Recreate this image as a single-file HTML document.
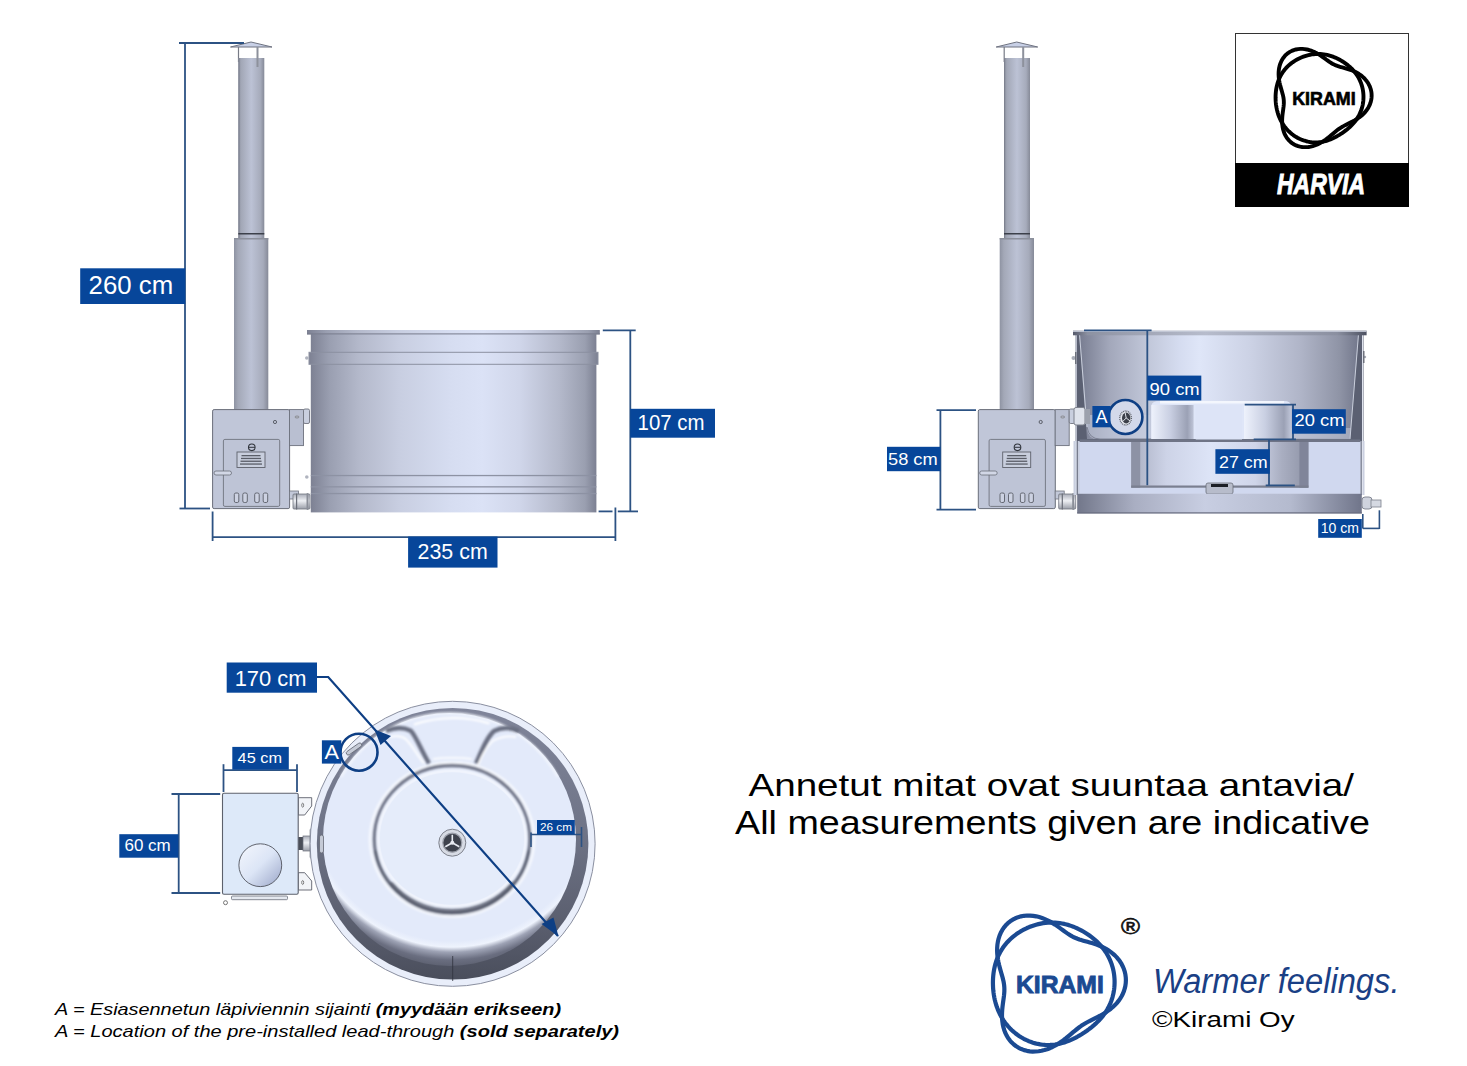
<!DOCTYPE html><html><head><meta charset="utf-8"><style>html,body{margin:0;padding:0;background:#fff;width:1467px;height:1066px;overflow:hidden}</style></head><body><svg width="1467" height="1066" viewBox="0 0 1467 1066" style="display:block">
<defs>
<linearGradient id="pipeG" x1="0" x2="1" y1="0" y2="0">
 <stop offset="0" stop-color="#8e93a2"/><stop offset="0.12" stop-color="#a3a8b7"/><stop offset="0.5" stop-color="#bcc2d5"/><stop offset="0.85" stop-color="#a6abbb"/><stop offset="1" stop-color="#868a98"/>
</linearGradient>
<linearGradient id="tubG" x1="0" x2="1" y1="0" y2="0">
 <stop offset="0" stop-color="#7d8193"/><stop offset="0.067" stop-color="#9a9fb1"/><stop offset="0.17" stop-color="#b4b9cb"/><stop offset="0.31" stop-color="#c8cee1"/><stop offset="0.49" stop-color="#d6ddf1"/><stop offset="0.6" stop-color="#dbe2f6"/><stop offset="0.73" stop-color="#d0d6ea"/><stop offset="0.87" stop-color="#b4b9cb"/><stop offset="0.96" stop-color="#9a9fb0"/><stop offset="1" stop-color="#7c8092"/>
</linearGradient>
<linearGradient id="bowlG" x1="0" x2="1" y1="0" y2="0">
 <stop offset="0" stop-color="#777c90"/><stop offset="0.11" stop-color="#a3a8bb"/><stop offset="0.24" stop-color="#c0c6d8"/><stop offset="0.36" stop-color="#d5dcf0"/><stop offset="0.43" stop-color="#dfe6f8"/><stop offset="0.61" stop-color="#ccd2e5"/><stop offset="0.79" stop-color="#b0b5c8"/><stop offset="0.93" stop-color="#8f94a6"/><stop offset="1" stop-color="#72778b"/>
</linearGradient>
<linearGradient id="baseG" x1="0" x2="1" y1="0" y2="0">
 <stop offset="0" stop-color="#72778a"/><stop offset="0.2" stop-color="#a9aec2"/><stop offset="0.45" stop-color="#c8cee2"/><stop offset="0.75" stop-color="#b4bace"/><stop offset="1" stop-color="#70758a"/>
</linearGradient>
<linearGradient id="seatG" x1="0" x2="1" y1="0" y2="0">
 <stop offset="0" stop-color="#eef2fc"/><stop offset="0.45" stop-color="#c9cfe2"/><stop offset="0.85" stop-color="#9ba1b5"/><stop offset="1" stop-color="#bfc5d8"/>
</linearGradient>
<linearGradient id="wellG" x1="0" x2="1" y1="0" y2="0">
 <stop offset="0" stop-color="#a9aec1"/><stop offset="0.2" stop-color="#cdd3e7"/><stop offset="0.45" stop-color="#dde4f7"/><stop offset="0.7" stop-color="#cfd5e9"/><stop offset="0.85" stop-color="#a9aec1"/><stop offset="1" stop-color="#8e93a6"/>
</linearGradient>
<linearGradient id="capG" x1="0" x2="1" y1="0" y2="1">
 <stop offset="0" stop-color="#f4f7fd"/><stop offset="0.5" stop-color="#dce5f6"/><stop offset="1" stop-color="#9aa6c8"/>
</linearGradient>
<linearGradient id="rimG" x1="0" x2="0" y1="0" y2="1">
 <stop offset="0" stop-color="#80859a"/><stop offset="0.45" stop-color="#6f7487"/><stop offset="0.8" stop-color="#5a5e6e"/><stop offset="1" stop-color="#4a4e5c"/>
</linearGradient>
<filter id="blur3" x="-10%" y="-10%" width="120%" height="120%"><feGaussianBlur stdDeviation="3"/></filter>
<filter id="blur1" x="-10%" y="-10%" width="120%" height="120%"><feGaussianBlur stdDeviation="0.9"/></filter>
<radialGradient id="bowlR" gradientUnits="userSpaceOnUse" cx="452" cy="800" r="172">
 <stop offset="0" stop-color="#e3eafa"/><stop offset="0.82" stop-color="#e3eafa"/><stop offset="0.855" stop-color="#eef3fd"/><stop offset="0.885" stop-color="#9ea3b5"/><stop offset="0.93" stop-color="#6a6e80"/><stop offset="1" stop-color="#525664"/>
</radialGradient>
<linearGradient id="fitG" x1="0" x2="0" y1="0" y2="1">
 <stop offset="0" stop-color="#a9adb8"/><stop offset="0.45" stop-color="#eef0f4"/><stop offset="1" stop-color="#9a9ea8"/>
</linearGradient>
<linearGradient id="rimG2" x1="0" x2="1" y1="0" y2="0">
 <stop offset="0" stop-color="#55596a"/><stop offset="0.05" stop-color="#8d92a2"/><stop offset="0.45" stop-color="#b7bccc"/><stop offset="0.9" stop-color="#8a8fa0"/><stop offset="1" stop-color="#4d5262"/>
</linearGradient>
</defs>
<rect width="1467" height="1066" fill="#fff"/>
<g font-family="Liberation Sans, sans-serif">
<g transform="translate(0,0)">
<polygon points="230.5,47 251,42 272,47" fill="#c8d0e6" stroke="#6f7380" stroke-width="1"/>
<line x1="238.5" y1="47" x2="238.5" y2="62" stroke="#777b86" stroke-width="1.2"/>
<rect x="238.3" y="58" width="26" height="181" fill="url(#pipeG)"/>
<rect x="256.5" y="47" width="2" height="20" fill="#8d919c"/>
<line x1="239" y1="58" x2="239" y2="239" stroke="#7a7e8c" stroke-width="1"/>
<rect x="238.3" y="233" width="26" height="1.5" fill="#3c404a"/>
<rect x="234" y="238" width="34.3" height="172" fill="url(#pipeG)"/>
<rect x="234" y="238" width="34.3" height="1.5" fill="#8c909c"/>
</g>
<g transform="translate(0,0)">
<rect x="212.6" y="409.6" width="77" height="99" rx="1.5" fill="#c0c6d8" stroke="#6a6e7a" stroke-width="1"/>
<rect x="223.4" y="439.4" width="56.3" height="67" rx="1.5" fill="#bec4d6" stroke="#777b87" stroke-width="1"/>
<circle cx="275" cy="422" r="1.6" fill="none" stroke="#50545e" stroke-width="0.9"/>
<circle cx="251.8" cy="447.3" r="3.3" fill="none" stroke="#30343c" stroke-width="1.1"/>
<path d="M248.8,447.3 L255,447.3" stroke="#30343c" stroke-width="1"/>
<rect x="237" y="452" width="28" height="15.5" fill="#c8cedd" stroke="#5d616b" stroke-width="0.9"/>
<rect x="241.5" y="455" width="19" height="1.3" fill="#5a5e68"/>
<rect x="241.0" y="457.8" width="20" height="1.3" fill="#5a5e68"/>
<rect x="240.5" y="460.6" width="21" height="1.3" fill="#5a5e68"/>
<rect x="240.0" y="463.4" width="22" height="1.3" fill="#5a5e68"/>
<rect x="214" y="471" width="17.5" height="4" rx="2" fill="#d2d7e6" stroke="#6a6e7a" stroke-width="0.8"/>
<rect x="234.3" y="493" width="4.5" height="9.5" rx="1.5" fill="#cdd2e2" stroke="#5a5e68" stroke-width="0.9"/>
<rect x="242.8" y="493" width="4.5" height="9.5" rx="1.5" fill="#cdd2e2" stroke="#5a5e68" stroke-width="0.9"/>
<rect x="254.7" y="493" width="4.5" height="9.5" rx="1.5" fill="#cdd2e2" stroke="#5a5e68" stroke-width="0.9"/>
<rect x="263.2" y="493" width="4.5" height="9.5" rx="1.5" fill="#cdd2e2" stroke="#5a5e68" stroke-width="0.9"/>
<rect x="289.5" y="409.6" width="14" height="36" fill="#b9bfd1" stroke="#6e727e" stroke-width="0.9"/>
<rect x="303.5" y="409" width="6" height="14.5" rx="1.5" fill="#c9cfdf" stroke="#70747f" stroke-width="0.9"/>
<ellipse cx="297" cy="417" rx="2" ry="1" fill="none" stroke="#777" stroke-width="0.7"/>
<rect x="289.5" y="491" width="9" height="8" fill="#c2c8d8" stroke="#70747f" stroke-width="0.8"/>
<rect x="293" y="494" width="17" height="15" rx="1" fill="url(#fitG)" stroke="#70747f" stroke-width="0.8"/>
<rect x="296" y="493.5" width="1.2" height="16" fill="#6a6e78"/>
<rect x="306.5" y="493" width="2" height="17" rx="1" fill="#8a8e98"/>
</g>
<rect x="310.8" y="334" width="285.6" height="178.4" fill="url(#tubG)"/>
<rect x="307" y="330" width="292.8" height="4.4" fill="url(#tubG)"/>
<rect x="307" y="333.4" width="292.8" height="1" fill="#777b8c"/>
<rect x="309" y="352.3" width="289" height="12" fill="url(#tubG)" stroke="#8b90a0" stroke-width="1"/>
<circle cx="306.8" cy="358" r="1.8" fill="#b0b4bf"/>
<circle cx="306.8" cy="477" r="1.8" fill="#b0b4bf"/>
<rect x="310.8" y="474.9" width="285.6" height="1.3" fill="#8d92a3"/>
<rect x="310.8" y="486.2" width="285.6" height="1.3" fill="#8d92a3"/>
<rect x="310.8" y="492.9" width="285.6" height="1.3" fill="#8d92a3"/>
<line x1="179" y1="43" x2="244" y2="43" stroke="#2c5283" stroke-width="1.8"/>
<line x1="185" y1="43" x2="185" y2="508.5" stroke="#2c5283" stroke-width="1.8"/>
<line x1="179.5" y1="508.5" x2="210" y2="508.5" stroke="#2c5283" stroke-width="1.8"/>
<rect x="80.2" y="268.3" width="105.0" height="35.7" fill="#07469a"/>
<text x="88.6" y="294.4" font-size="25.7" fill="#fff" textLength="84.6" lengthAdjust="spacingAndGlyphs">260 cm</text>
<line x1="212.6" y1="511.5" x2="212.6" y2="541" stroke="#2c5283" stroke-width="1.8"/>
<line x1="615.4" y1="507.5" x2="615.4" y2="541" stroke="#2c5283" stroke-width="1.8"/>
<line x1="212.6" y1="537.2" x2="615.4" y2="537.2" stroke="#2c5283" stroke-width="1.8"/>
<rect x="408.1" y="536.6" width="89.4" height="31.0" fill="#07469a"/>
<text x="417.6" y="559.4" font-size="21.8" fill="#fff" textLength="70.1" lengthAdjust="spacingAndGlyphs">235 cm</text>
<line x1="602.8" y1="330.4" x2="635.7" y2="330.4" stroke="#2c5283" stroke-width="1.8"/>
<line x1="630.3" y1="330.4" x2="630.3" y2="511.4" stroke="#2c5283" stroke-width="1.8"/>
<line x1="598.6" y1="511.4" x2="612.5" y2="511.4" stroke="#2c5283" stroke-width="1.8"/>
<line x1="617.8" y1="511.4" x2="638" y2="511.4" stroke="#2c5283" stroke-width="1.8"/>
<rect x="630.2" y="408.8" width="84.8" height="28.9" fill="#07469a"/>
<text x="637.6" y="430.4" font-size="21.2" fill="#fff" textLength="67.0" lengthAdjust="spacingAndGlyphs">107 cm</text>
<g transform="translate(765.7,0)">
<polygon points="230.5,47 251,42 272,47" fill="#c8d0e6" stroke="#6f7380" stroke-width="1"/>
<line x1="238.5" y1="47" x2="238.5" y2="62" stroke="#777b86" stroke-width="1.2"/>
<rect x="238.3" y="58" width="26" height="181" fill="url(#pipeG)"/>
<rect x="256.5" y="47" width="2" height="20" fill="#8d919c"/>
<line x1="239" y1="58" x2="239" y2="239" stroke="#7a7e8c" stroke-width="1"/>
<rect x="238.3" y="233" width="26" height="1.5" fill="#3c404a"/>
<rect x="234" y="238" width="34.3" height="172" fill="url(#pipeG)"/>
<rect x="234" y="238" width="34.3" height="1.5" fill="#8c909c"/>
</g>
<g transform="translate(765.7,0)">
<rect x="212.6" y="409.6" width="77" height="99" rx="1.5" fill="#c0c6d8" stroke="#6a6e7a" stroke-width="1"/>
<rect x="223.4" y="439.4" width="56.3" height="67" rx="1.5" fill="#bec4d6" stroke="#777b87" stroke-width="1"/>
<circle cx="275" cy="422" r="1.6" fill="none" stroke="#50545e" stroke-width="0.9"/>
<circle cx="251.8" cy="447.3" r="3.3" fill="none" stroke="#30343c" stroke-width="1.1"/>
<path d="M248.8,447.3 L255,447.3" stroke="#30343c" stroke-width="1"/>
<rect x="237" y="452" width="28" height="15.5" fill="#c8cedd" stroke="#5d616b" stroke-width="0.9"/>
<rect x="241.5" y="455" width="19" height="1.3" fill="#5a5e68"/>
<rect x="241.0" y="457.8" width="20" height="1.3" fill="#5a5e68"/>
<rect x="240.5" y="460.6" width="21" height="1.3" fill="#5a5e68"/>
<rect x="240.0" y="463.4" width="22" height="1.3" fill="#5a5e68"/>
<rect x="214" y="471" width="17.5" height="4" rx="2" fill="#d2d7e6" stroke="#6a6e7a" stroke-width="0.8"/>
<rect x="234.3" y="493" width="4.5" height="9.5" rx="1.5" fill="#cdd2e2" stroke="#5a5e68" stroke-width="0.9"/>
<rect x="242.8" y="493" width="4.5" height="9.5" rx="1.5" fill="#cdd2e2" stroke="#5a5e68" stroke-width="0.9"/>
<rect x="254.7" y="493" width="4.5" height="9.5" rx="1.5" fill="#cdd2e2" stroke="#5a5e68" stroke-width="0.9"/>
<rect x="263.2" y="493" width="4.5" height="9.5" rx="1.5" fill="#cdd2e2" stroke="#5a5e68" stroke-width="0.9"/>
<rect x="289.5" y="409.6" width="14" height="36" fill="#b9bfd1" stroke="#6e727e" stroke-width="0.9"/>
<rect x="303.5" y="409" width="6" height="14.5" rx="1.5" fill="#c9cfdf" stroke="#70747f" stroke-width="0.9"/>
<ellipse cx="297" cy="417" rx="2" ry="1" fill="none" stroke="#777" stroke-width="0.7"/>
<rect x="289.5" y="491" width="9" height="8" fill="#c2c8d8" stroke="#70747f" stroke-width="0.8"/>
<rect x="293" y="494" width="17" height="15" rx="1" fill="url(#fitG)" stroke="#70747f" stroke-width="0.8"/>
<rect x="296" y="493.5" width="1.2" height="16" fill="#6a6e78"/>
<rect x="306.5" y="493" width="2" height="17" rx="1" fill="#8a8e98"/>
</g>
<rect x="1075.5" y="333" width="288" height="110" fill="#5b6072"/>
<rect x="1073.5" y="441" width="291" height="54" fill="#c9cfdf"/>
<polygon points="1079,333 1359,333 1350,439 1087,439" fill="url(#bowlG)"/>
<rect x="1075.6" y="335" width="1.1" height="160" fill="#dfe3ee"/>
<rect x="1362" y="335" width="1.1" height="160" fill="#dfe3ee"/>
<rect x="1076.7" y="441" width="1.2" height="54" fill="#6f7484"/>
<rect x="1360.5" y="441" width="1.2" height="54" fill="#6f7484"/>
<line x1="1079.5" y1="334" x2="1087" y2="427" stroke="#d3d8e4" stroke-width="0.9"/>
<line x1="1358.5" y1="334" x2="1350" y2="439" stroke="#d3d8e4" stroke-width="0.9"/>
<rect x="1073" y="330.7" width="293.6" height="4.6" fill="url(#rimG2)"/>
<rect x="1073" y="330.7" width="293.6" height="1.2" fill="#c5cad8"/>
<circle cx="1073.5" cy="358" r="2" fill="#a9adb8"/><rect x="1075" y="352" width="1.5" height="12" fill="#6d717c"/>
<circle cx="1365" cy="357" r="1.2" fill="#a9adb8"/><rect x="1363" y="351" width="1.5" height="12" fill="#6d717c"/>
<path d="M1087,415 L1087,429 Q1088,439 1098,439 L1150,439 L1150,415 Z" fill="#c9cfe2" opacity="0.55"/>
<path d="M1087,427 Q1089,439 1100,439 L1350,439" fill="none" stroke="#7d8294" stroke-width="1"/>
<path d="M1151.4,406 Q1151.4,401 1160,401 L1284,401 Q1291,401 1291,406 L1291,439 L1151.4,439 Z" fill="#dfe6f8"/>
<rect x="1151.4" y="405" width="42.2" height="34" fill="url(#seatG)"/>
<rect x="1244" y="405" width="47" height="34" fill="url(#seatG)"/>
<rect x="1195.7" y="405" width="46.3" height="36" fill="#dde4f7"/>
<rect x="1160" y="401" width="124" height="2.5" fill="#f3f6fd"/>
<path d="M1291,428 L1351,428 L1350,439 L1291,439 Z" fill="#c3c9dc" opacity="0.5"/>
<rect x="1079.6" y="441.7" width="280.7" height="52.1" fill="#d0d8ef"/>
<rect x="1131.2" y="441.7" width="177.2" height="46" fill="url(#wellG)"/>
<rect x="1131.2" y="441.7" width="9" height="46" fill="#8d92a5"/>
<rect x="1299.4" y="441.7" width="9" height="46" fill="#80859a"/>
<rect x="1131.2" y="485.5" width="177.2" height="2.2" fill="#7a7f90"/>
<rect x="1079.6" y="439.5" width="280.7" height="2.5" fill="#6f7486"/>
<rect x="1206" y="483" width="27" height="11" rx="2" fill="#b7bccb" stroke="#6a6e7a" stroke-width="0.8"/>
<rect x="1211" y="484" width="17" height="3" fill="#1c1f26"/>
<rect x="1077.2" y="493.8" width="284.6" height="19.6" fill="url(#baseG)"/>
<rect x="1077.2" y="512.3" width="284.6" height="1.2" fill="#6a6e80"/>
<rect x="1074" y="407.5" width="11" height="17.5" rx="2" fill="#dfe3ec" stroke="#7c808c" stroke-width="1"/>
<rect x="1085" y="409" width="5" height="15" fill="#9ca1ad"/>
<rect x="1362" y="497" width="10" height="12" rx="3" fill="#cfd3de" stroke="#7c808c" stroke-width="0.9"/>
<rect x="1371" y="500" width="10" height="7" fill="#d5d9e2" stroke="#7c808c" stroke-width="0.8"/>
<circle cx="1125.4" cy="417" r="17" fill="#d3d9ea" stroke="#0e3f84" stroke-width="2.6"/>
<ellipse cx="1125.6" cy="418" rx="5.8" ry="7" fill="#e4e7ee" stroke="#5a5e68" stroke-width="1.3" stroke-dasharray="1 0.8"/>
<ellipse cx="1126.2" cy="418" rx="4.2" ry="5.4" fill="#3c4049"/>
<path d="M1126.2,418 l-1,-5 M1126.2,418 l4,3 M1126.2,418 l-3.5,3.5" stroke="#dfe3ea" stroke-width="1"/>
<rect x="1092.4" y="406" width="18.1" height="21.3" fill="#07469a"/>
<text x="1095.5" y="422.5" font-size="18" fill="#fff" textLength="12.0" lengthAdjust="spacingAndGlyphs">A</text>
<line x1="936.5" y1="410.2" x2="976" y2="410.2" stroke="#2c5283" stroke-width="1.8"/>
<line x1="936.5" y1="509.6" x2="976" y2="509.6" stroke="#2c5283" stroke-width="1.8"/>
<line x1="940.4" y1="410.2" x2="940.4" y2="509.6" stroke="#2c5283" stroke-width="1.8"/>
<rect x="887" y="446.8" width="53.4" height="24.4" fill="#07469a"/>
<text x="888" y="465" font-size="17.4" fill="#fff" textLength="49.7" lengthAdjust="spacingAndGlyphs">58 cm</text>
<line x1="1084" y1="330.4" x2="1151.6" y2="330.4" stroke="#2c5283" stroke-width="1.8"/>
<line x1="1147.3" y1="330.4" x2="1147.3" y2="485.2" stroke="#2c5283" stroke-width="1.8"/>
<rect x="1147.4" y="375.6" width="53.9" height="24.9" fill="#07469a"/>
<text x="1149.5" y="395" font-size="17.4" fill="#fff" textLength="50.2" lengthAdjust="spacingAndGlyphs">90 cm</text>
<line x1="1244.7" y1="404.7" x2="1296" y2="404.7" stroke="#2c5283" stroke-width="1.8"/>
<line x1="1253.7" y1="439.4" x2="1296" y2="439.4" stroke="#2c5283" stroke-width="1.8"/>
<line x1="1293" y1="404.7" x2="1293" y2="439.4" stroke="#2c5283" stroke-width="1.8"/>
<rect x="1292" y="409.2" width="53.8" height="24.5" fill="#07469a"/>
<text x="1294.6" y="426.3" font-size="16.6" fill="#fff" textLength="49.9" lengthAdjust="spacingAndGlyphs">20 cm</text>
<line x1="1269" y1="439.7" x2="1269" y2="485.4" stroke="#2c5283" stroke-width="1.8"/>
<line x1="1265.7" y1="485.4" x2="1294.8" y2="485.4" stroke="#2c5283" stroke-width="1.8"/>
<rect x="1215.4" y="449.2" width="54.4" height="24.6" fill="#07469a"/>
<text x="1219" y="467.8" font-size="17.4" fill="#fff" textLength="48.6" lengthAdjust="spacingAndGlyphs">27 cm</text>
<line x1="1379.4" y1="510.3" x2="1379.4" y2="529" stroke="#2c5283" stroke-width="1.6"/>
<line x1="1362.8" y1="528.4" x2="1379.4" y2="528.4" stroke="#2c5283" stroke-width="1.6"/>
<line x1="1362.8" y1="514" x2="1362.8" y2="528.4" stroke="#2c5283" stroke-width="1.6"/>
<rect x="1318.2" y="519" width="43.6" height="18.8" fill="#07469a"/>
<text x="1320.8" y="533" font-size="13.8" fill="#fff" textLength="38.2" lengthAdjust="spacingAndGlyphs">10 cm</text>
<path d="M298.2,797.7 L311.7,797.7 L311.7,806 L304.7,815 L298.2,815 Z" fill="#f2f4f8" stroke="#5d616c" stroke-width="0.9"/>
<path d="M298.2,872.7 L304.7,872.7 L311.7,881 L311.7,890 L298.2,890 Z" fill="#f2f4f8" stroke="#5d616c" stroke-width="0.9"/>
<ellipse cx="302.7" cy="805.2" rx="1" ry="2" fill="none" stroke="#555" stroke-width="0.7"/>
<ellipse cx="302.7" cy="882.5" rx="1" ry="2" fill="none" stroke="#555" stroke-width="0.7"/>
<rect x="298" y="837" width="5" height="13" fill="#4a4e58"/>
<rect x="303" y="836" width="8" height="15" fill="url(#fitG)" stroke="#6a6e7a" stroke-width="0.7"/>
<rect x="310" y="829" width="2.5" height="29" rx="1" fill="#c9ced9" stroke="#6a6e7a" stroke-width="0.6"/>
<rect x="222.5" y="793.2" width="75.7" height="101" rx="1.5" fill="#dde9f9" stroke="#5d616c" stroke-width="1.1"/>
<circle cx="260.3" cy="865.2" r="21.4" fill="url(#capG)" stroke="#50545e" stroke-width="0.9"/>
<rect x="231.5" y="896" width="56" height="3.7" rx="1" fill="#e4e8ef" stroke="#6a6e7a" stroke-width="0.8"/>
<circle cx="225.5" cy="902.7" r="2" fill="#fff" stroke="#555" stroke-width="0.8"/>
<circle cx="452.6" cy="843.8" r="142.5" fill="#e9eefa" stroke="#8a8fa0" stroke-width="1"/>
<circle cx="452.6" cy="843.8" r="135.8" fill="url(#rimG)"/>
<circle cx="449.5" cy="839.5" r="126.5" fill="url(#bowlR)"/>
<g filter="url(#blur1)" fill="none">
<path d="M341.1,777 A124,124 0 0 1 557.9,777" stroke="#f4f7fd" stroke-width="2"/>
</g>
<g filter="url(#blur1)"><ellipse cx="452" cy="839.5" rx="82" ry="77" fill="none" stroke="#f7f9fe" stroke-width="2.5"/>
<ellipse cx="452" cy="839" rx="77.8" ry="73.5" fill="none" stroke="#727789" stroke-width="3.4"/>
<path d="M375.5,852 A77.5,73 0 0 0 528.5,852" fill="none" stroke="#505463" stroke-width="4" stroke-opacity="0.45" stroke-linecap="round"/>
<path d="M392,884 A77.5,73 0 0 0 512,884" fill="none" stroke="#505463" stroke-width="4.4" stroke-opacity="0.6" stroke-linecap="round"/>
<ellipse cx="452" cy="838.5" rx="73.5" ry="67.5" fill="none" stroke="#f9fbff" stroke-width="2"/></g>
<ellipse cx="452" cy="838.5" rx="72" ry="66" fill="#e5ecfa"/>
<g filter="url(#blur1)" fill="none">
<path d="M386,731 C394,727.5 403,727 410.8,730.7 C416,736 421,750 429,763.4" stroke="#6a6f82" stroke-width="4.4"/>
<path d="M519,731 C511,727.5 502,727 494,731 C487,737 482,750 476,763.4" stroke="#6a6f82" stroke-width="4.4"/>
<path d="M390,737 C396,735.5 402,736 405.7,739 C412,745 418,756 424,763.4" stroke="#ffffff" stroke-width="1.8"/>
<path d="M516,737 C509,735.5 500,737 492.6,741 C486,748 481,757 478,765.4" stroke="#ffffff" stroke-width="1.8"/>
<path d="M414,724.5 Q452,712 489.5,723.5" stroke="#ffffff" stroke-width="2"/>
<path d="M433,759 Q452,756.5 472,759" stroke="#ffffff" stroke-width="1.6"/>
</g>
<circle cx="452.3" cy="842.7" r="13.5" fill="#d7dbe4" stroke="#7d818c" stroke-width="1"/>
<circle cx="452.3" cy="842.7" r="9.5" fill="#3e424c" stroke="#9ca0aa" stroke-width="1.2"/>
<path d="M452.3,842.7 l0,-8 M452.3,842.7 l7,4 M452.3,842.7 l-7,4" stroke="#e8ebf1" stroke-width="1.6"/>
<circle cx="452.3" cy="842.7" r="2" fill="#e8ebf1"/>
<rect x="319.5" y="835" width="4" height="18" rx="2" fill="#c5cad6" stroke="#666a76" stroke-width="0.8"/>
<rect x="352" y="740" width="4" height="18" rx="2" transform="rotate(55 354 749)" fill="#c5cad6" stroke="#666a76" stroke-width="0.8"/>
<line x1="452.7" y1="956" x2="452.7" y2="981" stroke="#2f323c" stroke-width="0.8"/>
<line x1="223.5" y1="764.2" x2="223.5" y2="792" stroke="#2c5283" stroke-width="1.8"/>
<line x1="297" y1="764.2" x2="297" y2="792" stroke="#2c5283" stroke-width="1.8"/>
<line x1="223.5" y1="770.1" x2="297" y2="770.1" stroke="#2c5283" stroke-width="1.8"/>
<rect x="232.3" y="746.9" width="56.5" height="22.8" fill="#07469a"/>
<text x="237.6" y="763" font-size="14.5" fill="#fff" textLength="44.4" lengthAdjust="spacingAndGlyphs">45 cm</text>
<line x1="171.5" y1="794" x2="220.2" y2="794" stroke="#2c5283" stroke-width="1.8"/>
<line x1="171.5" y1="893" x2="220.2" y2="893" stroke="#2c5283" stroke-width="1.8"/>
<line x1="178.7" y1="794" x2="178.7" y2="893" stroke="#2c5283" stroke-width="1.8"/>
<rect x="119.3" y="834.2" width="58.9" height="23.5" fill="#07469a"/>
<text x="124.5" y="851" font-size="16.4" fill="#fff" textLength="46.2" lengthAdjust="spacingAndGlyphs">60 cm</text>
<line x1="531" y1="834.5" x2="581.5" y2="834.5" stroke="#2c5283" stroke-width="1.6"/>
<line x1="531" y1="832.5" x2="531" y2="847" stroke="#2c5283" stroke-width="1.6"/>
<line x1="581.5" y1="827" x2="581.5" y2="847" stroke="#2c5283" stroke-width="1.6"/>
<rect x="537" y="820" width="37.8" height="14.5" fill="#07469a"/>
<text x="540" y="831" font-size="11.5" fill="#fff" textLength="32.0" lengthAdjust="spacingAndGlyphs">26 cm</text>
<polyline points="317,677 328.2,677 558,936" fill="none" stroke="#0e3f84" stroke-width="2.2"/>
<polygon points="374.5,729.5 380.5,745 391,736" fill="#0e3f84"/>
<polygon points="558.5,936.5 541.5,924 553.5,917.5" fill="#0e3f84"/>
<rect x="226.7" y="662.5" width="90.3" height="30.2" fill="#07469a"/>
<text x="234.7" y="685.5" font-size="21.8" fill="#fff" textLength="71.8" lengthAdjust="spacingAndGlyphs">170 cm</text>
<circle cx="359" cy="752.2" r="18.5" fill="none" stroke="#0e3f84" stroke-width="2.6"/>
<rect x="321.9" y="740.3" width="19.4" height="23.3" fill="#07469a"/>
<text x="324.5" y="758.5" font-size="19.5" fill="#fff" textLength="14.5" lengthAdjust="spacingAndGlyphs">A</text>
<g transform="">
<path d="M1125.75,983.00 L1125.38,985.77 L1124.77,988.49 L1123.93,991.16 L1122.87,993.75 L1121.61,996.25 L1120.16,998.64 L1118.55,1000.92 L1116.79,1003.08 L1114.90,1005.10 L1112.91,1006.99 L1110.84,1008.74 L1108.71,1010.37 L1106.55,1011.87 L1104.37,1013.25 L1102.19,1014.53 L1100.04,1015.72 L1097.91,1016.83 L1095.83,1017.88 L1093.81,1018.88 L1091.84,1019.84 L1089.94,1020.80 L1088.10,1021.76 L1086.32,1022.73 L1084.59,1023.73 L1082.91,1024.77 L1081.26,1025.86 L1079.64,1027.00 L1078.04,1028.21 L1076.43,1029.48 L1074.80,1030.81 L1073.15,1032.20 L1071.46,1033.65 L1069.71,1035.14 L1067.88,1036.67 L1065.98,1038.22 L1063.99,1039.77 L1061.90,1041.32 L1059.71,1042.83 L1057.41,1044.30 L1055.00,1045.69 L1052.49,1046.99 L1049.87,1048.17 L1047.16,1049.20 L1044.38,1050.08 L1041.52,1050.77 L1038.61,1051.26 L1035.68,1051.52 L1032.73,1051.55 L1029.79,1051.32 L1026.90,1050.84 L1024.07,1050.10 L1021.33,1049.09 L1018.70,1047.82 L1016.21,1046.29 L1013.89,1044.53 L1011.75,1042.53 L1009.80,1040.33 L1008.07,1037.95 L1006.56,1035.41 L1005.27,1032.73 L1004.21,1029.95 L1003.37,1027.10 L1002.74,1024.20 L1002.32,1021.28 L1002.07,1018.37 L1001.99,1015.49 L1002.04,1012.66 L1002.21,1009.90 L1002.46,1007.22 L1002.76,1004.64 L1003.10,1002.15 L1003.44,999.75 L1003.75,997.45 L1004.02,995.24 L1004.23,993.10 L1004.35,991.02 L1004.37,988.99 L1004.29,986.99 L1004.11,985.00 L1003.82,983.00 L1003.43,980.97 L1002.94,978.90 L1002.38,976.77 L1001.75,974.57 L1001.08,972.27 L1000.39,969.89 L999.70,967.40 L999.04,964.82 L998.44,962.13 L997.92,959.36 L997.51,956.50 L997.23,953.57 L997.11,950.58 L997.18,947.57 L997.44,944.54 L997.92,941.53 L998.63,938.56 L999.57,935.66 L1000.76,932.86 L1002.19,930.19 L1003.85,927.67 L1005.75,925.33 L1007.86,923.21 L1010.18,921.31 L1012.68,919.66 L1015.34,918.28 L1018.13,917.17 L1021.04,916.34 L1024.02,915.80 L1027.06,915.53 L1030.11,915.54 L1033.17,915.81 L1036.20,916.32 L1039.17,917.06 L1042.07,917.99 L1044.88,919.09 L1047.58,920.33 L1050.17,921.68 L1052.65,923.12 L1055.00,924.60 L1057.24,926.11 L1059.36,927.61 L1061.38,929.08 L1063.31,930.50 L1065.17,931.85 L1066.97,933.12 L1068.73,934.30 L1070.47,935.39 L1072.20,936.37 L1073.94,937.26 L1075.71,938.07 L1077.52,938.80 L1079.38,939.46 L1081.30,940.08 L1083.29,940.66 L1085.34,941.23 L1087.47,941.81 L1089.66,942.42 L1091.91,943.07 L1094.21,943.79 L1096.55,944.59 L1098.92,945.48 L1101.31,946.49 L1103.69,947.63 L1106.04,948.89 L1108.36,950.30 L1110.61,951.86 L1112.78,953.56 L1114.85,955.41 L1116.79,957.41 L1118.59,959.54 L1120.23,961.81 L1121.68,964.19 L1122.94,966.69 L1123.99,969.28 L1124.82,971.94 L1125.42,974.67 L1125.77,977.43 L1125.89,980.21Z" fill="none" stroke="#1b4a92" stroke-width="4.2" stroke-linejoin="round"/>
<path d="M1114.58,983.00 L1114.50,985.34 L1114.31,987.67 L1114.03,989.99 L1113.65,992.29 L1113.17,994.57 L1112.60,996.83 L1111.93,999.06 L1111.17,1001.25 L1110.31,1003.40 L1109.36,1005.52 L1108.32,1007.58 L1107.20,1009.60 L1105.99,1011.56 L1104.71,1013.46 L1103.35,1015.31 L1101.92,1017.09 L1100.44,1018.82 L1098.89,1020.49 L1097.30,1022.10 L1095.66,1023.66 L1093.98,1025.17 L1092.26,1026.62 L1090.50,1028.03 L1088.71,1029.40 L1086.89,1030.73 L1085.04,1032.02 L1083.15,1033.27 L1081.23,1034.48 L1079.27,1035.65 L1077.27,1036.78 L1075.24,1037.86 L1073.16,1038.89 L1071.04,1039.87 L1068.87,1040.78 L1066.66,1041.63 L1064.41,1042.39 L1062.11,1043.08 L1059.77,1043.67 L1057.40,1044.16 L1055.00,1044.54 L1052.57,1044.81 L1050.12,1044.97 L1047.66,1045.01 L1045.19,1044.93 L1042.72,1044.72 L1040.26,1044.39 L1037.81,1043.94 L1035.39,1043.36 L1032.99,1042.67 L1030.62,1041.86 L1028.29,1040.94 L1026.00,1039.91 L1023.76,1038.78 L1021.58,1037.54 L1019.45,1036.21 L1017.38,1034.78 L1015.38,1033.26 L1013.45,1031.65 L1011.59,1029.96 L1009.81,1028.19 L1008.11,1026.34 L1006.50,1024.43 L1004.97,1022.44 L1003.53,1020.39 L1002.19,1018.29 L1000.94,1016.13 L999.79,1013.92 L998.73,1011.67 L997.77,1009.38 L996.90,1007.06 L996.13,1004.72 L995.44,1002.35 L994.84,999.97 L994.33,997.57 L993.90,995.15 L993.55,992.73 L993.28,990.31 L993.08,987.87 L992.97,985.44 L992.92,983.00 L992.95,980.56 L993.06,978.13 L993.25,975.69 L993.52,973.26 L993.87,970.84 L994.32,968.43 L994.85,966.04 L995.48,963.66 L996.21,961.31 L997.04,958.99 L997.97,956.71 L999.00,954.47 L1000.14,952.28 L1001.38,950.14 L1002.71,948.06 L1004.15,946.05 L1005.67,944.11 L1007.28,942.24 L1008.97,940.45 L1010.74,938.74 L1012.58,937.11 L1014.49,935.57 L1016.45,934.10 L1018.47,932.72 L1020.54,931.43 L1022.65,930.21 L1024.81,929.08 L1027.00,928.04 L1029.22,927.08 L1031.48,926.21 L1033.76,925.42 L1036.06,924.72 L1038.39,924.12 L1040.74,923.61 L1043.10,923.19 L1045.48,922.87 L1047.86,922.65 L1050.24,922.53 L1052.62,922.52 L1055.00,922.60 L1057.37,922.79 L1059.72,923.07 L1062.05,923.45 L1064.36,923.93 L1066.64,924.49 L1068.89,925.14 L1071.11,925.87 L1073.30,926.68 L1075.45,927.57 L1077.57,928.52 L1079.65,929.54 L1081.69,930.62 L1083.70,931.76 L1085.66,932.96 L1087.60,934.22 L1089.49,935.53 L1091.34,936.91 L1093.15,938.34 L1094.91,939.83 L1096.62,941.38 L1098.28,942.99 L1099.89,944.66 L1101.43,946.40 L1102.91,948.19 L1104.31,950.05 L1105.64,951.97 L1106.89,953.94 L1108.05,955.97 L1109.12,958.05 L1110.10,960.18 L1110.99,962.34 L1111.78,964.55 L1112.48,966.79 L1113.07,969.06 L1113.57,971.35 L1113.97,973.66 L1114.27,975.99 L1114.47,978.32 L1114.58,980.66Z" fill="none" stroke="#1b4a92" stroke-width="4.2" stroke-linejoin="round"/>
<text x="1016" y="993" font-size="24.8" font-weight="bold" fill="#1b4a92" stroke="#1b4a92" stroke-width="0.9" textLength="87.8" lengthAdjust="spacingAndGlyphs">KIRAMI</text>
</g>
<text x="1121" y="934" font-size="22" fill="#111" stroke="#111" stroke-width="0.6" textLength="19" lengthAdjust="spacingAndGlyphs">®</text>
<rect x="1235.5" y="33.5" width="173" height="173" fill="#fff" stroke="#333" stroke-width="1"/>
<rect x="1235" y="163" width="174" height="44" fill="#000"/>
<g transform="translate(1274.4,48) scale(0.7225) translate(-991.3,-914.3)">
<path d="M1125.75,983.00 L1125.38,985.77 L1124.77,988.49 L1123.93,991.16 L1122.87,993.75 L1121.61,996.25 L1120.16,998.64 L1118.55,1000.92 L1116.79,1003.08 L1114.90,1005.10 L1112.91,1006.99 L1110.84,1008.74 L1108.71,1010.37 L1106.55,1011.87 L1104.37,1013.25 L1102.19,1014.53 L1100.04,1015.72 L1097.91,1016.83 L1095.83,1017.88 L1093.81,1018.88 L1091.84,1019.84 L1089.94,1020.80 L1088.10,1021.76 L1086.32,1022.73 L1084.59,1023.73 L1082.91,1024.77 L1081.26,1025.86 L1079.64,1027.00 L1078.04,1028.21 L1076.43,1029.48 L1074.80,1030.81 L1073.15,1032.20 L1071.46,1033.65 L1069.71,1035.14 L1067.88,1036.67 L1065.98,1038.22 L1063.99,1039.77 L1061.90,1041.32 L1059.71,1042.83 L1057.41,1044.30 L1055.00,1045.69 L1052.49,1046.99 L1049.87,1048.17 L1047.16,1049.20 L1044.38,1050.08 L1041.52,1050.77 L1038.61,1051.26 L1035.68,1051.52 L1032.73,1051.55 L1029.79,1051.32 L1026.90,1050.84 L1024.07,1050.10 L1021.33,1049.09 L1018.70,1047.82 L1016.21,1046.29 L1013.89,1044.53 L1011.75,1042.53 L1009.80,1040.33 L1008.07,1037.95 L1006.56,1035.41 L1005.27,1032.73 L1004.21,1029.95 L1003.37,1027.10 L1002.74,1024.20 L1002.32,1021.28 L1002.07,1018.37 L1001.99,1015.49 L1002.04,1012.66 L1002.21,1009.90 L1002.46,1007.22 L1002.76,1004.64 L1003.10,1002.15 L1003.44,999.75 L1003.75,997.45 L1004.02,995.24 L1004.23,993.10 L1004.35,991.02 L1004.37,988.99 L1004.29,986.99 L1004.11,985.00 L1003.82,983.00 L1003.43,980.97 L1002.94,978.90 L1002.38,976.77 L1001.75,974.57 L1001.08,972.27 L1000.39,969.89 L999.70,967.40 L999.04,964.82 L998.44,962.13 L997.92,959.36 L997.51,956.50 L997.23,953.57 L997.11,950.58 L997.18,947.57 L997.44,944.54 L997.92,941.53 L998.63,938.56 L999.57,935.66 L1000.76,932.86 L1002.19,930.19 L1003.85,927.67 L1005.75,925.33 L1007.86,923.21 L1010.18,921.31 L1012.68,919.66 L1015.34,918.28 L1018.13,917.17 L1021.04,916.34 L1024.02,915.80 L1027.06,915.53 L1030.11,915.54 L1033.17,915.81 L1036.20,916.32 L1039.17,917.06 L1042.07,917.99 L1044.88,919.09 L1047.58,920.33 L1050.17,921.68 L1052.65,923.12 L1055.00,924.60 L1057.24,926.11 L1059.36,927.61 L1061.38,929.08 L1063.31,930.50 L1065.17,931.85 L1066.97,933.12 L1068.73,934.30 L1070.47,935.39 L1072.20,936.37 L1073.94,937.26 L1075.71,938.07 L1077.52,938.80 L1079.38,939.46 L1081.30,940.08 L1083.29,940.66 L1085.34,941.23 L1087.47,941.81 L1089.66,942.42 L1091.91,943.07 L1094.21,943.79 L1096.55,944.59 L1098.92,945.48 L1101.31,946.49 L1103.69,947.63 L1106.04,948.89 L1108.36,950.30 L1110.61,951.86 L1112.78,953.56 L1114.85,955.41 L1116.79,957.41 L1118.59,959.54 L1120.23,961.81 L1121.68,964.19 L1122.94,966.69 L1123.99,969.28 L1124.82,971.94 L1125.42,974.67 L1125.77,977.43 L1125.89,980.21Z" fill="none" stroke="#000" stroke-width="5.4" stroke-linejoin="round"/>
<path d="M1114.58,983.00 L1114.50,985.34 L1114.31,987.67 L1114.03,989.99 L1113.65,992.29 L1113.17,994.57 L1112.60,996.83 L1111.93,999.06 L1111.17,1001.25 L1110.31,1003.40 L1109.36,1005.52 L1108.32,1007.58 L1107.20,1009.60 L1105.99,1011.56 L1104.71,1013.46 L1103.35,1015.31 L1101.92,1017.09 L1100.44,1018.82 L1098.89,1020.49 L1097.30,1022.10 L1095.66,1023.66 L1093.98,1025.17 L1092.26,1026.62 L1090.50,1028.03 L1088.71,1029.40 L1086.89,1030.73 L1085.04,1032.02 L1083.15,1033.27 L1081.23,1034.48 L1079.27,1035.65 L1077.27,1036.78 L1075.24,1037.86 L1073.16,1038.89 L1071.04,1039.87 L1068.87,1040.78 L1066.66,1041.63 L1064.41,1042.39 L1062.11,1043.08 L1059.77,1043.67 L1057.40,1044.16 L1055.00,1044.54 L1052.57,1044.81 L1050.12,1044.97 L1047.66,1045.01 L1045.19,1044.93 L1042.72,1044.72 L1040.26,1044.39 L1037.81,1043.94 L1035.39,1043.36 L1032.99,1042.67 L1030.62,1041.86 L1028.29,1040.94 L1026.00,1039.91 L1023.76,1038.78 L1021.58,1037.54 L1019.45,1036.21 L1017.38,1034.78 L1015.38,1033.26 L1013.45,1031.65 L1011.59,1029.96 L1009.81,1028.19 L1008.11,1026.34 L1006.50,1024.43 L1004.97,1022.44 L1003.53,1020.39 L1002.19,1018.29 L1000.94,1016.13 L999.79,1013.92 L998.73,1011.67 L997.77,1009.38 L996.90,1007.06 L996.13,1004.72 L995.44,1002.35 L994.84,999.97 L994.33,997.57 L993.90,995.15 L993.55,992.73 L993.28,990.31 L993.08,987.87 L992.97,985.44 L992.92,983.00 L992.95,980.56 L993.06,978.13 L993.25,975.69 L993.52,973.26 L993.87,970.84 L994.32,968.43 L994.85,966.04 L995.48,963.66 L996.21,961.31 L997.04,958.99 L997.97,956.71 L999.00,954.47 L1000.14,952.28 L1001.38,950.14 L1002.71,948.06 L1004.15,946.05 L1005.67,944.11 L1007.28,942.24 L1008.97,940.45 L1010.74,938.74 L1012.58,937.11 L1014.49,935.57 L1016.45,934.10 L1018.47,932.72 L1020.54,931.43 L1022.65,930.21 L1024.81,929.08 L1027.00,928.04 L1029.22,927.08 L1031.48,926.21 L1033.76,925.42 L1036.06,924.72 L1038.39,924.12 L1040.74,923.61 L1043.10,923.19 L1045.48,922.87 L1047.86,922.65 L1050.24,922.53 L1052.62,922.52 L1055.00,922.60 L1057.37,922.79 L1059.72,923.07 L1062.05,923.45 L1064.36,923.93 L1066.64,924.49 L1068.89,925.14 L1071.11,925.87 L1073.30,926.68 L1075.45,927.57 L1077.57,928.52 L1079.65,929.54 L1081.69,930.62 L1083.70,931.76 L1085.66,932.96 L1087.60,934.22 L1089.49,935.53 L1091.34,936.91 L1093.15,938.34 L1094.91,939.83 L1096.62,941.38 L1098.28,942.99 L1099.89,944.66 L1101.43,946.40 L1102.91,948.19 L1104.31,950.05 L1105.64,951.97 L1106.89,953.94 L1108.05,955.97 L1109.12,958.05 L1110.10,960.18 L1110.99,962.34 L1111.78,964.55 L1112.48,966.79 L1113.07,969.06 L1113.57,971.35 L1113.97,973.66 L1114.27,975.99 L1114.47,978.32 L1114.58,980.66Z" fill="none" stroke="#000" stroke-width="5.4" stroke-linejoin="round"/>
<text x="1016" y="993" font-size="24.8" font-weight="bold" fill="#000" stroke="#000" stroke-width="0.9" textLength="87.8" lengthAdjust="spacingAndGlyphs">KIRAMI</text>
</g>
<text x="1277" y="193.5" font-size="28.6" font-weight="bold" font-style="italic" fill="#fff" stroke="#fff" stroke-width="0.9" textLength="88" lengthAdjust="spacingAndGlyphs">HARVIA</text>
<text x="748.4" y="796" font-size="32" fill="#000" font-style="normal" font-weight="normal" textLength="605.6" lengthAdjust="spacingAndGlyphs">Annetut mitat ovat suuntaa antavia/</text>
<text x="735" y="834.2" font-size="33.4" fill="#000" font-style="normal" font-weight="normal" textLength="635.0" lengthAdjust="spacingAndGlyphs">All measurements given are indicative</text>
<text x="54.9" y="1015.2" font-size="16.4" fill="#000" font-style="italic" font-weight="normal" textLength="506.1" lengthAdjust="spacingAndGlyphs">A = Esiasennetun läpiviennin sijainti <tspan font-weight="bold">(myydään erikseen)</tspan></text>
<text x="54.9" y="1036.5" font-size="16.4" fill="#000" font-style="italic" font-weight="normal" textLength="564.1" lengthAdjust="spacingAndGlyphs">A = Location of the pre-installed lead-through <tspan font-weight="bold">(sold separately)</tspan></text>
<text x="1152.9" y="993.3" font-size="34.9" fill="#1a3f85" font-style="italic" font-weight="normal" textLength="246.6" lengthAdjust="spacingAndGlyphs">Warmer feelings.</text>
<text x="1152" y="1027" font-size="22.2" fill="#000" font-style="normal" font-weight="normal" textLength="142.6" lengthAdjust="spacingAndGlyphs">©Kirami Oy</text>
</g></svg></body></html>
